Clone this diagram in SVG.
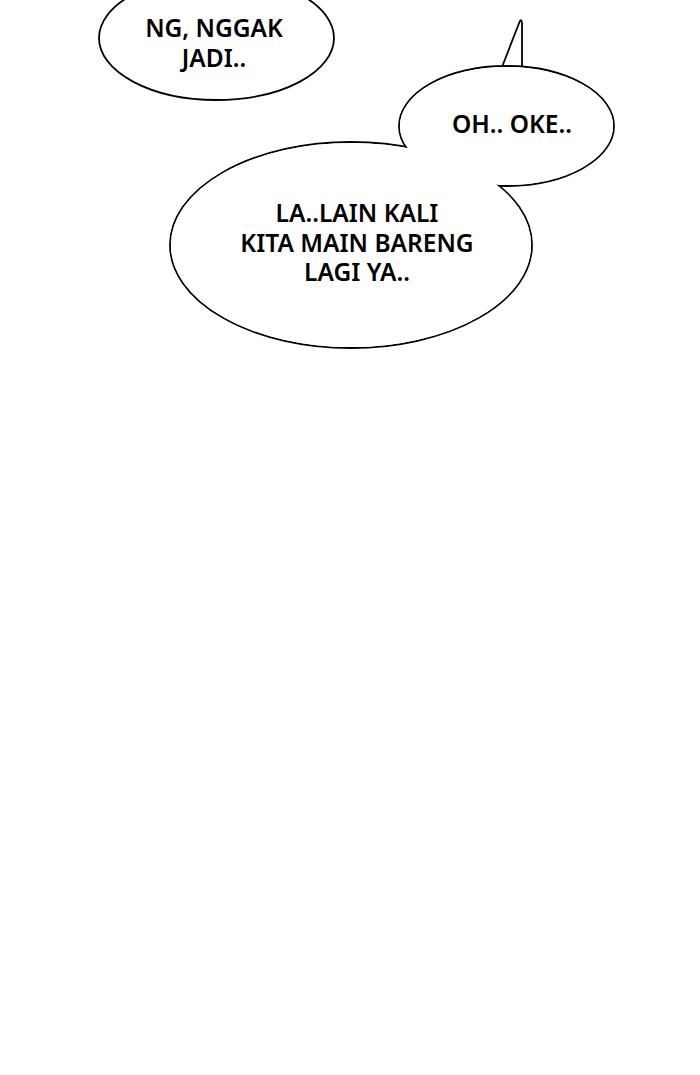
<svg xmlns="http://www.w3.org/2000/svg" width="700" height="1075" viewBox="0 0 700 1075">
<style>
.b{fill:#fff;stroke:#000;stroke-width:1.8}
.f{fill:#fff;stroke:none}
.t{font-family:"Noto Sans","DejaVu Sans",sans-serif;font-size:24.5px;font-weight:600;fill:#000;text-anchor:middle}
</style>
<rect width="700" height="1075" fill="#fff"/>
<g id="bubble-ng">
<ellipse class="b" cx="216.5" cy="38" rx="117.5" ry="62"/>
<text class="t" x="214" y="37">NG, NGGAK</text>
<text class="t" x="214" y="67">JADI..</text>
</g>
<g id="bubble-oh-la">
<path class="b" d="M502,67 L519.5,22 Q521.5,18 522,23 L522,67 Z"/>
<ellipse class="b" cx="506.5" cy="126" rx="107.5" ry="60"/>
<ellipse class="b" cx="351" cy="245" rx="181" ry="103"/>
<ellipse class="f" cx="506.5" cy="126" rx="106.6" ry="59.1"/>
<ellipse class="f" cx="351" cy="245" rx="180.1" ry="102.1"/>
<text class="t" x="512" y="133">OH.. OKE..</text>
<text class="t" x="357" y="222">LA..LAIN KALI</text>
<text class="t" x="357" y="252">KITA MAIN BARENG</text>
<text class="t" x="357" y="281">LAGI YA..</text>
</g>
</svg>
